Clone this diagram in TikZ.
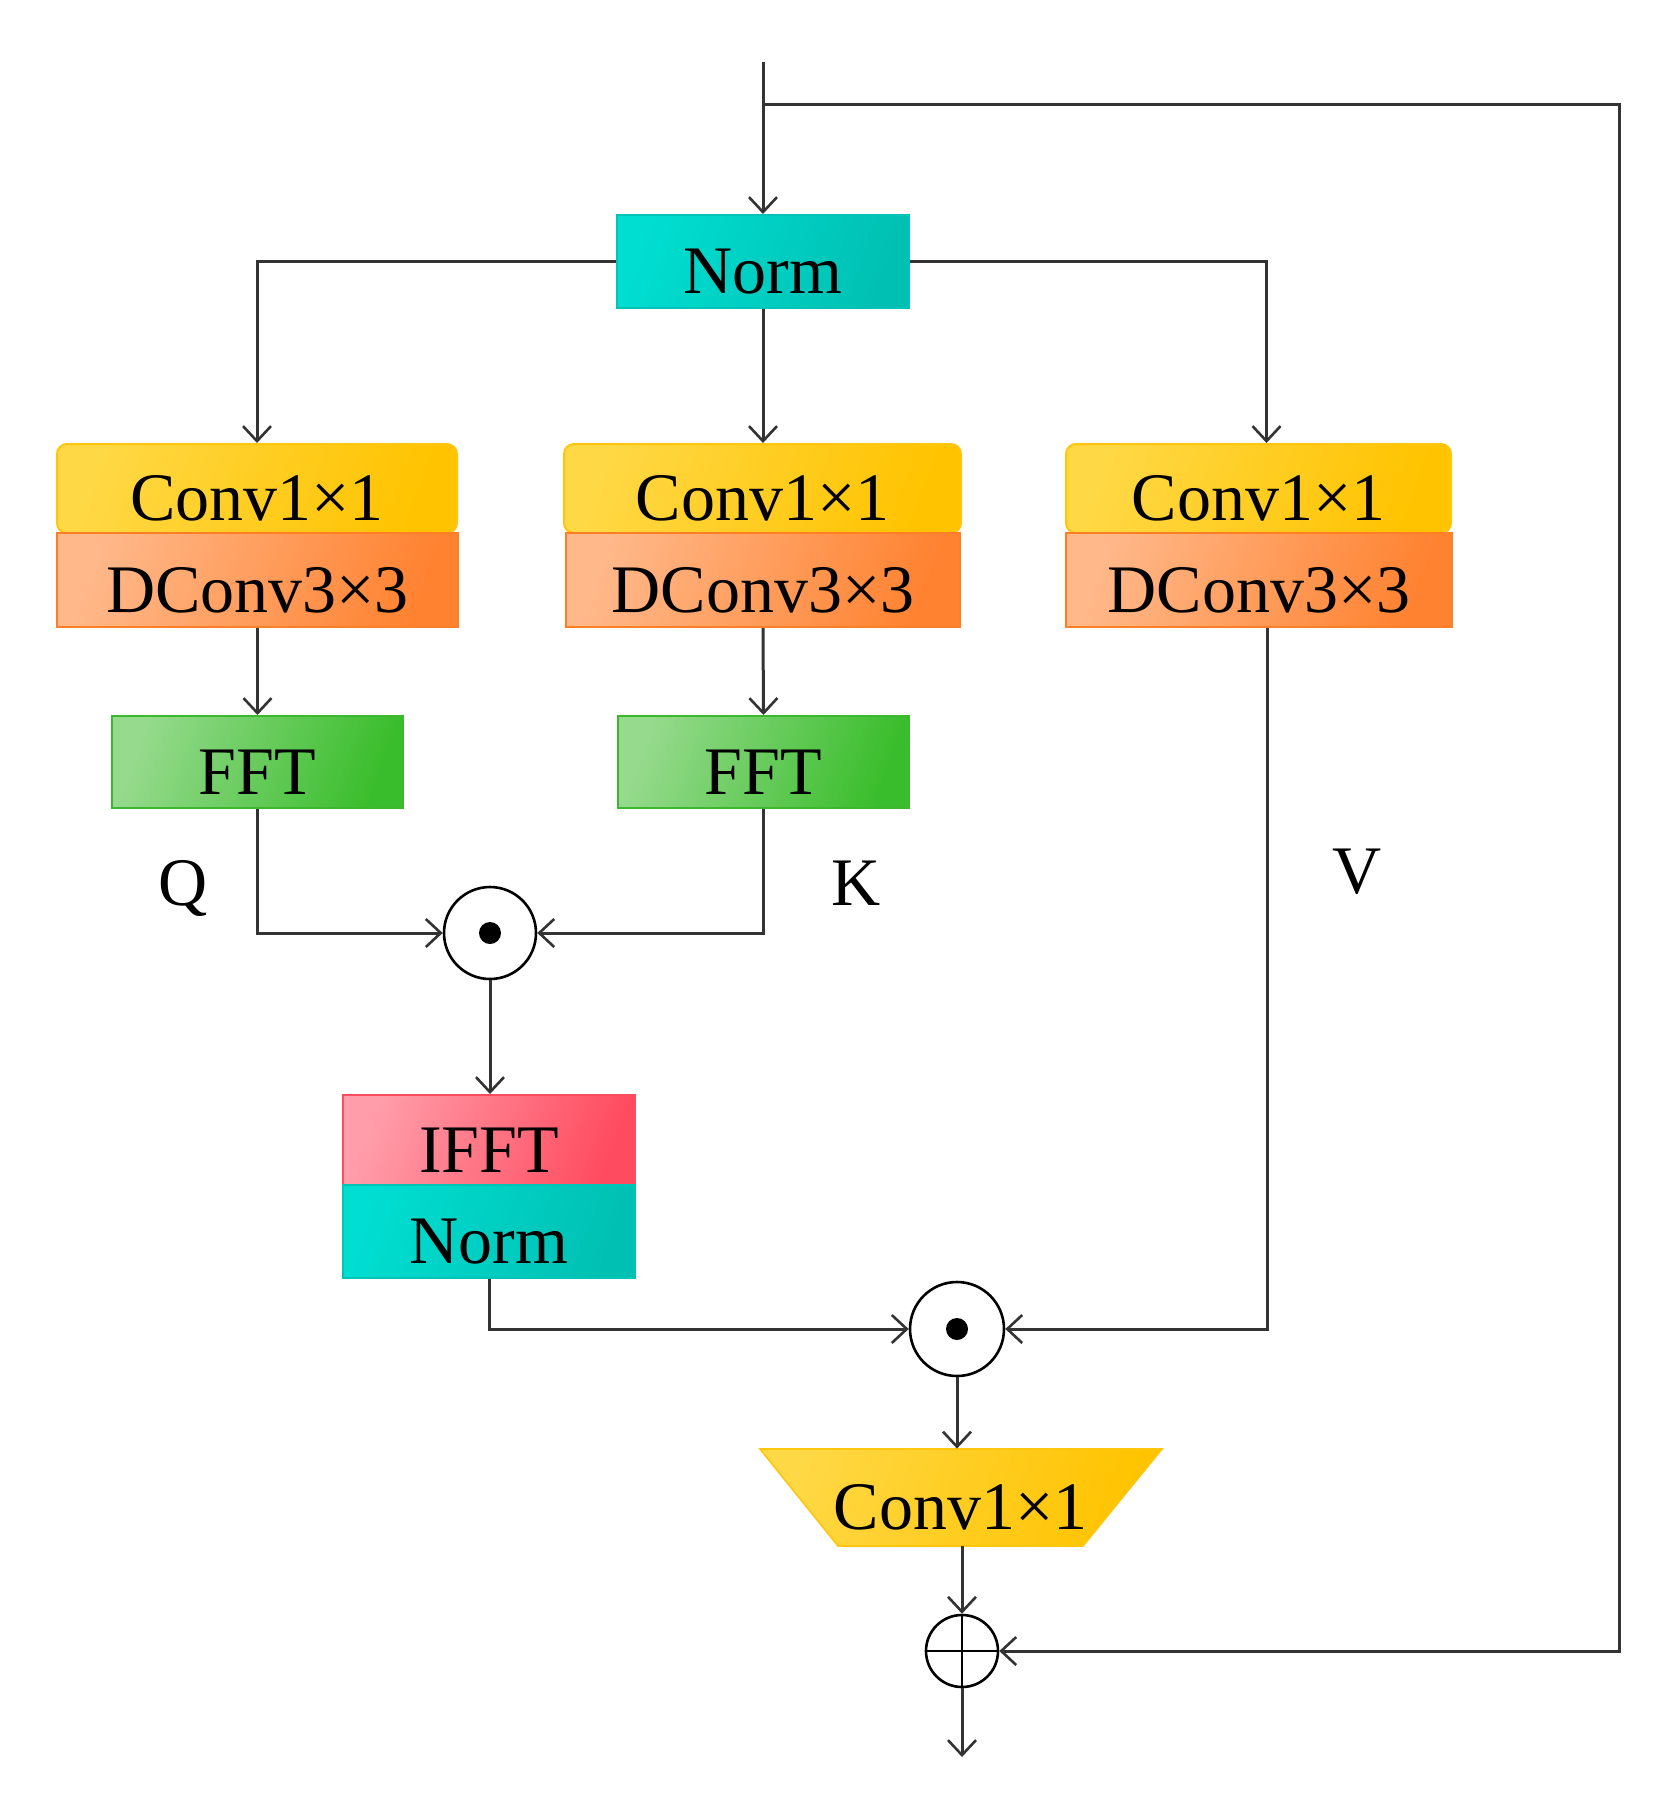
\documentclass[tikz,border=0pt]{standalone}
\usepackage{fontspec}
\setmainfont{Liberation Serif}
\usetikzlibrary{arrows.meta,calc}
\definecolor{normL}{HTML}{00DED1}
\definecolor{normR}{HTML}{00C0B3}
\definecolor{normB}{HTML}{00C4B6}
\definecolor{convL}{HTML}{FFD845}
\definecolor{convR}{HTML}{FFC300}
\definecolor{convB}{HTML}{FFC60F}
\definecolor{dcL}{HTML}{FFB88A}
\definecolor{dcR}{HTML}{FF8230}
\definecolor{dcB}{HTML}{FF7F27}
\definecolor{fftL}{HTML}{96DA8D}
\definecolor{fftR}{HTML}{3ABD2C}
\definecolor{fftB}{HTML}{3CB82E}
\definecolor{ifL}{HTML}{FF9EAA}
\definecolor{ifR}{HTML}{FF4B5F}
\definecolor{ifB}{HTML}{FF4D5E}
\begin{document}
\begin{tikzpicture}[x=0.5pt,y=-0.5pt,
  line/.style={draw=black!80, line width=1.5pt},
  arr/.style={line, -{Straight Barb[length=7.5pt,width=14pt,line width=1.3pt]}},
  txt/.style={font=\fontsize{34pt}{40pt}\selectfont},
  box/.style={txt, inner sep=0pt, text height=32pt, text depth=0pt, line width=1pt},
  grad/.style n args={2}{shading=axis, top color=#1, bottom color=#2, shading angle=70},
  normbox/.style={box, draw=normB, grad={normL}{normR}},
  convbox/.style={box, draw=convB, grad={convL}{convR}, rounded corners=5pt},
  dconvbox/.style={box, draw=dcB, grad={dcL}{dcR}},
  fftbox/.style={box, draw=fftB, grad={fftL}{fftR}},
  ifftbox/.style={box, draw=ifB, grad={ifL}{ifR}},
  odot/.style={circle, draw=black, line width=1.3pt, fill=white, inner sep=0pt,
    path picture={\fill[black] (path picture bounding box.center) circle (5.5pt);}},
  oplus/.style={circle, draw=black, line width=1.3pt, fill=white, inner sep=0pt,
    path picture={\draw[black, line width=1.3pt] (path picture bounding box.north) -- (path picture bounding box.south)
      (path picture bounding box.west) -- (path picture bounding box.east);}},
  lab/.style={txt, anchor=base, inner sep=0pt}
]
\useasboundingbox (0,0) rectangle (1664,1795);

% boxes
\node[normbox, minimum width=146pt, minimum height=46.5pt] (norm1) at (763,261.5) {Norm};

\node[convbox, minimum width=200pt, minimum height=44.5pt] (conv1) at (257,488.5) {Conv1×1};
\node[dconvbox, minimum width=200.5pt, minimum height=47pt] (dconv1) at (257.5,580) {DConv3×3};
\node[convbox, minimum width=198.5pt, minimum height=44.5pt] (conv2) at (762.5,488.5) {Conv1×1};
\node[dconvbox, minimum width=197pt, minimum height=47pt] (dconv2) at (763,580) {DConv3×3};
\node[convbox, minimum width=192.5pt, minimum height=44.5pt] (conv3) at (1258.5,488.5) {Conv1×1};
\node[dconvbox, minimum width=193pt, minimum height=47pt] (dconv3) at (1259,580) {DConv3×3};

\node[fftbox, minimum width=145.5pt, minimum height=46pt] (fft1) at (257.5,762) {FFT};
\node[fftbox, minimum width=145.5pt, minimum height=46pt] (fft2) at (763.5,762) {FFT};

\node[odot, minimum size=46pt] (dot1) at (490,933) {};

\node[ifftbox, minimum width=146pt, minimum height=45pt] (ifft) at (489,1140) {IFFT};
\node[normbox, minimum width=146pt, minimum height=46.5pt] (norm2) at (489,1231.5) {Norm};

\node[odot, minimum size=47pt] (dot2) at (957,1329) {};

\shade[draw=convB, line width=0.8pt, grad={convL}{convR}]
  (760,1449) -- (1162,1449) -- (1083,1546) -- (838,1546) -- cycle;
\node[txt, inner sep=0pt, text height=32pt, text depth=0pt, minimum width=122.5pt, minimum height=48.5pt] (conv4) at (960.5,1497.5) {Conv1×1};

\node[oplus, minimum size=36pt] (plus) at (962,1651) {};

% labels
\node[lab] (lq) at (183,905) {Q};
\node[lab] (lk) at (856,905) {K};
\node[lab] (lv) at (1357,893) {V};

% coordinates
\coordinate (in) at (763,62);
\coordinate (fb1) at (763,104);
\coordinate (fb2) at (1619,104);
\coordinate (out) at (962,1757);

% connectors
\draw[arr] (in) -- (norm1.north);
\draw[arr] (fb1) -- (fb2) |- (plus.east);
\draw[arr] (norm1.west) -| (conv1.north);
\draw[arr] (norm1.south) -- (norm1.south |- conv2.north);
\draw[arr] (norm1.east) -| ([xshift=4pt]conv3.north);
\draw[arr] (dconv1.south) -- (fft1.north);
\draw[arr] (dconv2.south) -- (fft2.north);
\draw[arr] (fft1.south) |- (dot1.west);
\draw[arr] (fft2.south) |- (dot1.east);
\draw[arr] (dot1.south) -- (dot1.south |- ifft.north);
\draw[arr] (norm2.south) |- (dot2.west);
\draw[arr] ([xshift=4pt]dconv3.south) |- (dot2.east);
\draw[arr] (dot2.south) -- (dot2.south |- conv4.north);
\draw[arr] (plus.north |- conv4.south) -- (plus.north);
\draw[arr] (plus.south) -- (out);
\end{tikzpicture}
\end{document}
